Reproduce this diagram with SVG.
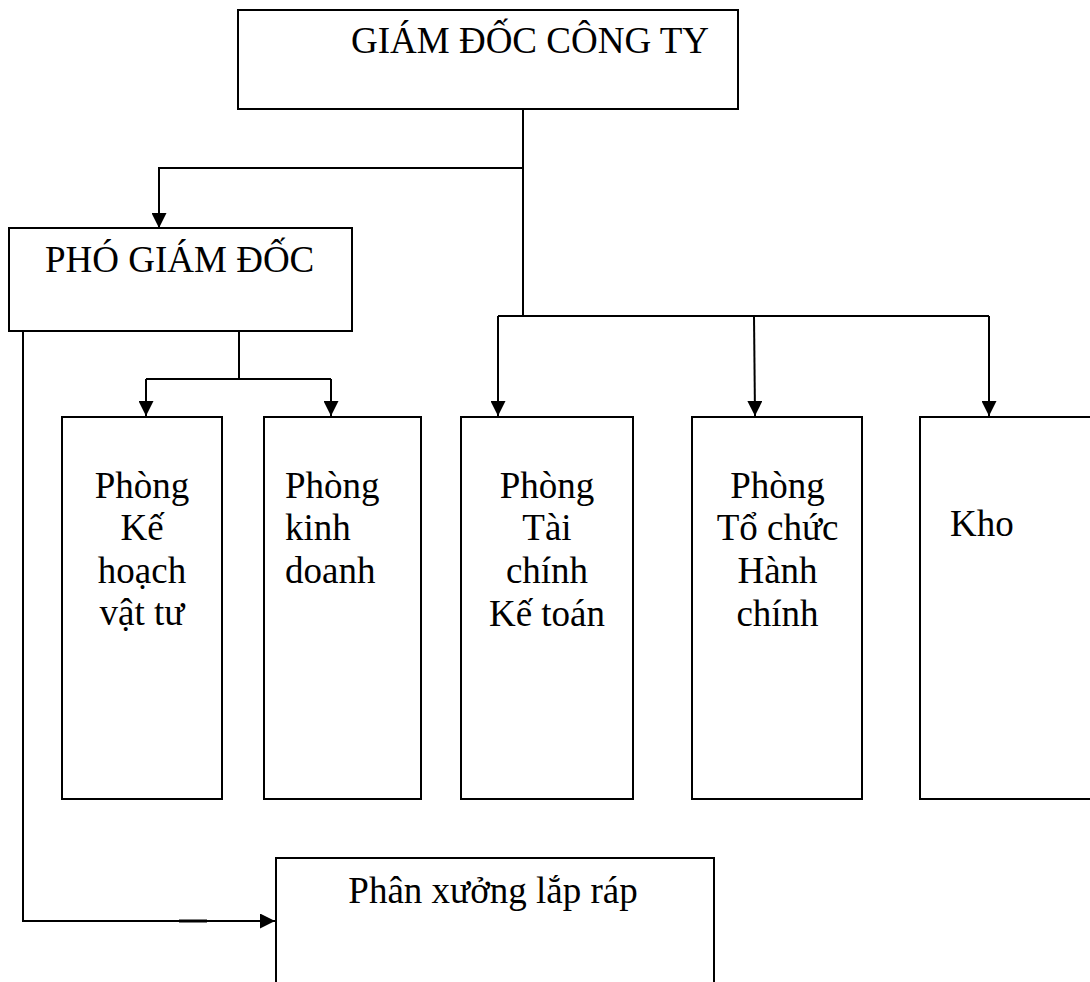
<svg xmlns="http://www.w3.org/2000/svg" width="1090" height="982" viewBox="0 0 1090 982">
<style>
.box{fill:#fff;stroke:#000;stroke-width:2}
.ln{fill:none;stroke:#000;stroke-width:2}
.t{font-family:"Liberation Serif","Times New Roman",serif;font-size:37px;fill:#000}
.c{text-anchor:middle}
</style>
<defs>
<marker id="arr" markerUnits="userSpaceOnUse" viewBox="0 0 15 15" refX="15" refY="7.5" markerWidth="15" markerHeight="15" orient="auto">
<path d="M0,0 L15,7.5 L0,15 z" fill="#000"/>
</marker>
</defs>
<rect width="1090" height="982" fill="#fff"/>
<g id="connectors">
<path class="ln" d="M523,109 V316"/>
<path class="ln" d="M523,168 H159 V228" marker-end="url(#arr)"/>
<path class="ln" d="M498,316 H989"/>
<path class="ln" d="M498,316 V416" marker-end="url(#arr)"/>
<path class="ln" d="M754,316 L755,416" marker-end="url(#arr)"/>
<path class="ln" d="M989,316 V416" marker-end="url(#arr)"/>
<path class="ln" d="M239,331 V379"/>
<path class="ln" d="M146,379 H331"/>
<path class="ln" d="M146,379 V416" marker-end="url(#arr)"/>
<path class="ln" d="M331,379 V416" marker-end="url(#arr)"/>
<path class="ln" d="M23,331 V921 H275" marker-end="url(#arr)"/>
<path d="M179,921 H207" stroke="#000" stroke-width="3"/>
</g>
<g id="giam-doc">
<rect class="box" x="238" y="10" width="500" height="99"/>
<text class="t" x="351" y="53">GIÁM ĐỐC CÔNG TY</text>
</g>
<g id="pho-giam-doc">
<rect class="box" x="9" y="228" width="343" height="103"/>
<text class="t" x="45" y="272">PHÓ GIÁM ĐỐC</text>
</g>
<g id="phong-ke-hoach">
<rect class="box" x="62" y="417" width="160" height="382"/>
<text class="t c" x="142" y="498">Phòng</text>
<text class="t c" x="142" y="540">Kế</text>
<text class="t c" x="142" y="583">hoạch</text>
<text class="t c" x="142" y="625">vật tư</text>
</g>
<g id="phong-kinh-doanh">
<rect class="box" x="264" y="417" width="157" height="382"/>
<text class="t" x="285" y="498">Phòng</text>
<text class="t" x="285" y="540">kinh</text>
<text class="t" x="285" y="583">doanh</text>
</g>
<g id="phong-tai-chinh">
<rect class="box" x="461" y="417" width="172" height="382"/>
<text class="t c" x="547" y="498">Phòng</text>
<text class="t c" x="547" y="540">Tài</text>
<text class="t c" x="547" y="583">chính</text>
<text class="t c" x="547" y="626">Kế toán</text>
</g>
<g id="phong-to-chuc">
<rect class="box" x="692" y="417" width="170" height="382"/>
<text class="t c" x="777.5" y="498">Phòng</text>
<text class="t c" x="777.5" y="540">Tổ chức</text>
<text class="t c" x="777.5" y="583">Hành</text>
<text class="t c" x="777.5" y="626">chính</text>
</g>
<g id="kho">
<rect class="box" x="920" y="417" width="180" height="382"/>
<text class="t" x="950" y="536">Kho</text>
</g>
<g id="phan-xuong">
<rect class="box" x="276" y="858" width="438" height="140"/>
<text class="t c" x="493" y="903">Phân xưởng lắp ráp</text>
</g>
</svg>
